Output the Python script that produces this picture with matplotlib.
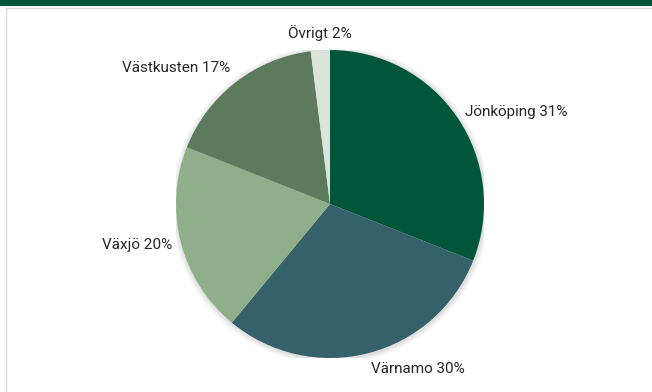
import matplotlib.pyplot as plt
from matplotlib.patches import Rectangle
from matplotlib.lines import Line2D

# Andel per region
regioner = ['Jönköping', 'Värnamo', 'Växjö', 'Västkusten', 'Övrigt']
andelar = [31, 30, 20, 17, 2]
farger = ['#00563A', '#36616A', '#8FAF8A', '#5E7A5C', '#DCE3DA']

plt.rcParams['font.family'] = ['Roboto', 'DejaVu Sans']

fig = plt.figure(figsize=(6.52, 3.92), dpi=100)
fig.patch.set_facecolor('white')

# mörkgrön list överst och ram till vänster
fig.patches.append(Rectangle((0, 1 - 6 / 392), 1, 6 / 392, transform=fig.transFigure,
                             facecolor='#00563A', edgecolor='none'))
fig.lines.append(Line2D([6 / 652, 6 / 652], [0, 1 - 8 / 392], transform=fig.transFigure,
                        color='#D9D9D9', linewidth=1))
fig.lines.append(Line2D([6 / 652, 1], [1 - 8 / 392, 1 - 8 / 392], transform=fig.transFigure,
                        color='#D9D9D9', linewidth=1))

r = 154
cx, cy = 330, 204
ax = fig.add_axes([(cx - r) / 652, (392 - cy - r) / 392, 2 * r / 652, 2 * r / 392])

# svag skugga bakom cirkeln
for i, a in enumerate([0.05, 0.04, 0.03]):
    ax.add_patch(plt.Circle((0.004, -0.006), 1 + 0.012 * (i + 1), color='black',
                            alpha=a, linewidth=0, zorder=0))

etiketter = [f'{n} {v}%' for n, v in zip(regioner, andelar)]
wedges, texts = ax.pie(andelar, labels=etiketter, colors=farger, startangle=90,
                       counterclock=False, labeldistance=1.06, radius=1,
                       wedgeprops=dict(linewidth=0),
                       textprops=dict(fontsize=11, color='#262626'))
texts[1].set_verticalalignment('top')
texts[3].set_verticalalignment('bottom')
texts[4].set_horizontalalignment('center')
texts[4].set_verticalalignment('bottom')
for t in texts:
    t.set_clip_on(False)

ax.set_xlim(-1, 1)
ax.set_ylim(-1, 1)
ax.set_aspect('equal')
ax.axis('off')

fig.savefig('out.png', dpi=100)
